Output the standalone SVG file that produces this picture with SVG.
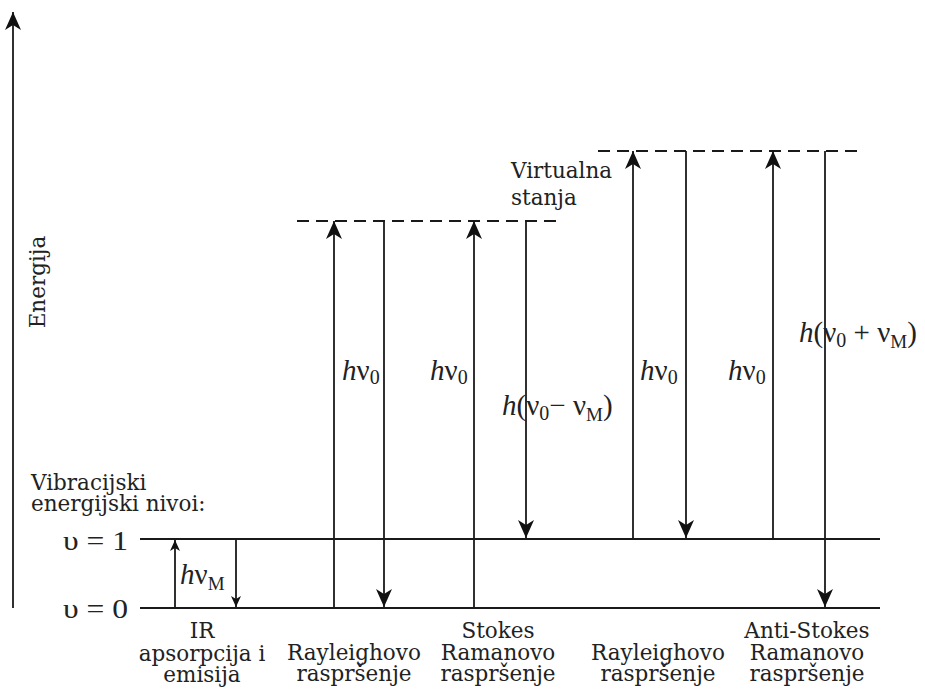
<svg xmlns="http://www.w3.org/2000/svg" width="925" height="689" viewBox="0 0 925 689">
<style>
.ln{stroke:#1a1a1a;stroke-width:1.8;fill:none}
.dash{stroke:#1a1a1a;stroke-width:1.8;stroke-dasharray:12,7;fill:none}
.t{font-family:"DejaVu Serif","Liberation Serif",serif;font-size:21.5px;fill:#222}
.tc{font-family:"DejaVu Serif","Liberation Serif",serif;font-size:21.5px;fill:#222;text-anchor:middle}
.m{font-family:"Liberation Serif","DejaVu Serif",serif;font-size:29px;fill:#222}
.mi{font-style:italic}
.lv{font-family:"Liberation Serif","DejaVu Serif",serif;font-size:28px;fill:#222}
</style>
<defs>
<marker id="ah" markerUnits="userSpaceOnUse" markerWidth="22" markerHeight="20" viewBox="-20 -10 22 20" refX="0" refY="0" orient="auto">
<path d="M0,0 L-18,-8 L-13,0 L-18,8 Z" fill="#111"/>
</marker>
<marker id="ahs" markerUnits="userSpaceOnUse" markerWidth="14" markerHeight="12" viewBox="-12 -6 14 12" refX="0" refY="0" orient="auto">
<path d="M0,0 L-11,-5 L-8,0 L-11,5 Z" fill="#111"/>
</marker>
</defs>

<g id="axis">
<line class="ln" x1="13" y1="608" x2="13" y2="12" marker-end="url(#ah)"/>
<text class="t" transform="translate(45,282) rotate(-90)" text-anchor="middle">Energija</text>
</g>

<g id="levels">
<line class="ln" x1="140" y1="608" x2="880" y2="608"/>
<line class="ln" x1="140" y1="539" x2="880" y2="539"/>
<line class="dash" x1="297" y1="221" x2="563" y2="221"/>
<line class="dash" x1="598" y1="151" x2="862" y2="151"/>
<text class="t" x="31" y="490">Vibracijski</text>
<text class="t" x="31" y="511">energijski nivoi:</text>
<text class="lv" x="63" y="550" textLength="65" lengthAdjust="spacingAndGlyphs">υ = 1</text>
<text class="lv" x="63" y="618" textLength="65" lengthAdjust="spacingAndGlyphs">υ = 0</text>
<text class="t" x="511" y="178">Virtualna</text>
<text class="t" x="511" y="205">stanja</text>
</g>

<g id="connectors">
<line class="ln" x1="175" y1="608" x2="175" y2="540" marker-end="url(#ahs)"/>
<line class="ln" x1="236" y1="539" x2="236" y2="607" marker-end="url(#ahs)"/>
<line class="ln" x1="334" y1="608" x2="334" y2="221" marker-end="url(#ah)"/>
<line class="ln" x1="384" y1="221" x2="384" y2="607" marker-end="url(#ah)"/>
<line class="ln" x1="474" y1="608" x2="474" y2="221" marker-end="url(#ah)"/>
<line class="ln" x1="526" y1="221" x2="526" y2="538" marker-end="url(#ah)"/>
<line class="ln" x1="633" y1="539" x2="633" y2="151" marker-end="url(#ah)"/>
<line class="ln" x1="686" y1="151" x2="686" y2="538" marker-end="url(#ah)"/>
<line class="ln" x1="773" y1="539" x2="773" y2="151" marker-end="url(#ah)"/>
<line class="ln" x1="825" y1="151" x2="825" y2="607" marker-end="url(#ah)"/>
</g>

<g id="ir">
<text class="m" x="180" y="584"><tspan class="mi">h</tspan>ν<tspan font-size="19" dy="6">M</tspan></text>
<text class="tc" x="202" y="638">IR</text>
<text class="tc" x="202" y="661">apsorpcija i</text>
<text class="tc" x="202" y="682">emisija</text>
</g>

<g id="rayleigh1">
<text class="m" x="342" y="380"><tspan class="mi">h</tspan>ν<tspan font-size="20" dy="4">0</tspan></text>
<text class="tc" x="354" y="660">Rayleighovo</text>
<text class="tc" x="354" y="681">raspršenje</text>
</g>

<g id="stokes">
<text class="m" x="430" y="380"><tspan class="mi">h</tspan>ν<tspan font-size="20" dy="4">0</tspan></text>
<text class="m" x="502" y="415"><tspan class="mi">h</tspan>(ν<tspan font-size="20" dy="5">0</tspan><tspan dy="-5">− ν</tspan><tspan font-size="19" dy="6">M</tspan><tspan dy="-6">)</tspan></text>
<text class="tc" x="498" y="638">Stokes</text>
<text class="tc" x="498" y="660">Ramanovo</text>
<text class="tc" x="498" y="681">raspršenje</text>
</g>

<g id="rayleigh2">
<text class="m" x="640" y="380"><tspan class="mi">h</tspan>ν<tspan font-size="20" dy="4">0</tspan></text>
<text class="tc" x="658" y="660">Rayleighovo</text>
<text class="tc" x="658" y="681">raspršenje</text>
</g>

<g id="antistokes">
<text class="m" x="728" y="380"><tspan class="mi">h</tspan>ν<tspan font-size="20" dy="4">0</tspan></text>
<text class="m" x="799" y="342"><tspan class="mi">h</tspan>(ν<tspan font-size="20" dy="5">0</tspan><tspan dy="-5"> + ν</tspan><tspan font-size="19" dy="6">M</tspan><tspan dy="-6">)</tspan></text>
<text class="tc" x="807" y="638">Anti-Stokes</text>
<text class="tc" x="807" y="660">Ramanovo</text>
<text class="tc" x="807" y="681">raspršenje</text>
</g>
</svg>
